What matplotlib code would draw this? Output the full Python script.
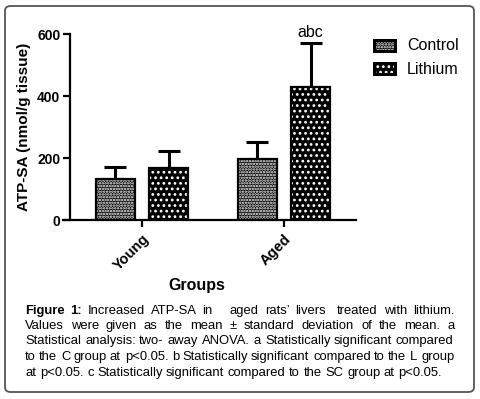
import matplotlib.pyplot as plt
import numpy as np
from matplotlib.patches import FancyBboxPatch

plt.rcParams['font.family'] = ['Liberation Sans', 'DejaVu Sans']
plt.rcParams['hatch.linewidth'] = 1.2

groups = ['Young', 'Aged']
series = ['Control', 'Lithium']
control_mean = [132, 196]
control_sd = [40, 55]
lithium_mean = [167, 428]
lithium_sd = [56, 142]
hatches = ['......', '...']
caption_lines = [
    "Increased ATP-SA in   aged rats\u2019 livers  treated with lithium.",
    "Values were given as the mean \u00b1 standard deviation of the mean. a",
    "Statistical analysis: two- away ANOVA. a Statistically significant compared",
    "to the C group at p<0.05. b Statistically significant compared to the L group",
    "at p<0.05. c Statistically significant compared to the SC group at p<0.05.",
]

fig = plt.figure(figsize=(4.8, 3.99), dpi=100)
ax = fig.add_axes([63 / 480, 1 - 220 / 399, 293 / 480, 186 / 399])

x = np.arange(len(groups))
w = 0.275
off = 0.187

def draw_bars(xs, means, sds, hatch, label):
    ax.bar(xs, means, w, color='black', edgecolor='black', linewidth=0, zorder=2)
    ax.bar(xs, means, w, color='none', edgecolor='white', hatch=hatch, linewidth=0, zorder=3)
    ax.bar(xs, means, w, color='none', edgecolor='black', linewidth=1.6, zorder=4)
    ax.errorbar(xs, means, yerr=[np.zeros(len(sds)), sds], fmt='none', ecolor='black',
                elinewidth=2.2, capsize=8, capthick=2.2, zorder=1)

draw_bars(x - off, control_mean, control_sd, hatches[0], series[0])
draw_bars(x + off, lithium_mean, lithium_sd, hatches[1], series[1])

ax.text(x[1] + off, lithium_mean[1] + lithium_sd[1] + 12, 'abc', ha='center', va='bottom', fontsize=11.5)

ax.set_xlim(-0.556, 1.507)
ax.set_ylim(0, 600)
ax.spines['top'].set_visible(False)
ax.spines['right'].set_visible(False)
ax.spines['left'].set_position(('axes', 7 / 293))
ax.spines['left'].set_linewidth(1.6)
ax.spines['bottom'].set_linewidth(1.6)
ax.set_yticks([0, 200, 400, 600])
ax.set_yticklabels(['0', '200', '400', '600'], fontsize=10, fontweight='bold')
ax.set_xticks(x)
ax.set_xticklabels(groups, rotation=45, ha='right', rotation_mode='anchor', fontsize=10.5, fontweight='bold')
ax.tick_params(axis='both', width=1.6, length=5, direction='out')
ax.tick_params(axis='y', pad=2)
ax.set_ylabel('ATP-SA (nmol/g tissue)', fontsize=11, fontweight='bold', labelpad=4)
ax.set_xlabel('Groups', fontsize=11.5, fontweight='bold')
ax.xaxis.set_label_coords(0.457, -0.31)

# legend boxes
for i, (name, h) in enumerate(zip(series, hatches)):
    y0 = 1 - (53 + 23 * i) / 399
    fig.patches.append(plt.Rectangle((373 / 480, y0), 24 / 480, 14 / 399, transform=fig.transFigure,
                                     facecolor='black', edgecolor='black', linewidth=0))
    fig.patches.append(plt.Rectangle((376 / 480, y0 + 3 / 399), 18 / 480, 8 / 399, transform=fig.transFigure,
                                     facecolor='none', edgecolor='white', hatch=h, linewidth=0))
    fig.text(407 / 480, y0 + 7 / 399, name, fontsize=11.5, va='center', ha='left')

# frame
fig.patches.append(FancyBboxPatch((5 / 480, 7 / 399), 469 / 480, 386 / 399, transform=fig.transFigure,
                                  boxstyle='round,pad=0,rounding_size=0.012', facecolor='none',
                                  edgecolor='#555555', linewidth=1.3))

# justified caption
renderer = fig.canvas.get_renderer()
left, right = 25, 454
fs = 9.35

def width_of(s, weight='normal'):
    t = fig.text(0, 0, s, fontsize=fs, fontweight=weight)
    bb = t.get_window_extent(renderer)
    t.remove()
    return bb.width

space_w = width_of('a b') - width_of('ab')
for k, line in enumerate(caption_lines):
    ypix = round(313.5 + 15.5 * k)
    yf = (399 - ypix) / 399
    tokens = line.split(' ')
    weights = ['normal'] * len(tokens)
    if k == 0:
        tokens = ['Figure', '1:'] + tokens
        weights = ['bold', 'bold'] + weights
    widths = [width_of(t, wt) if t else 0 for t, wt in zip(tokens, weights)]
    gaps = len(tokens) - 1
    if k < len(caption_lines) - 1:
        gap = (right - left - sum(widths)) / gaps
    else:
        gap = space_w
    xp = left
    for t, wt, wd in zip(tokens, weights, widths):
        if t:
            fig.text(round(xp) / 480, yf, t, fontsize=fs, fontweight=wt, va='baseline', ha='left')
        xp += wd + gap

fig.savefig('out.png', dpi=100)
